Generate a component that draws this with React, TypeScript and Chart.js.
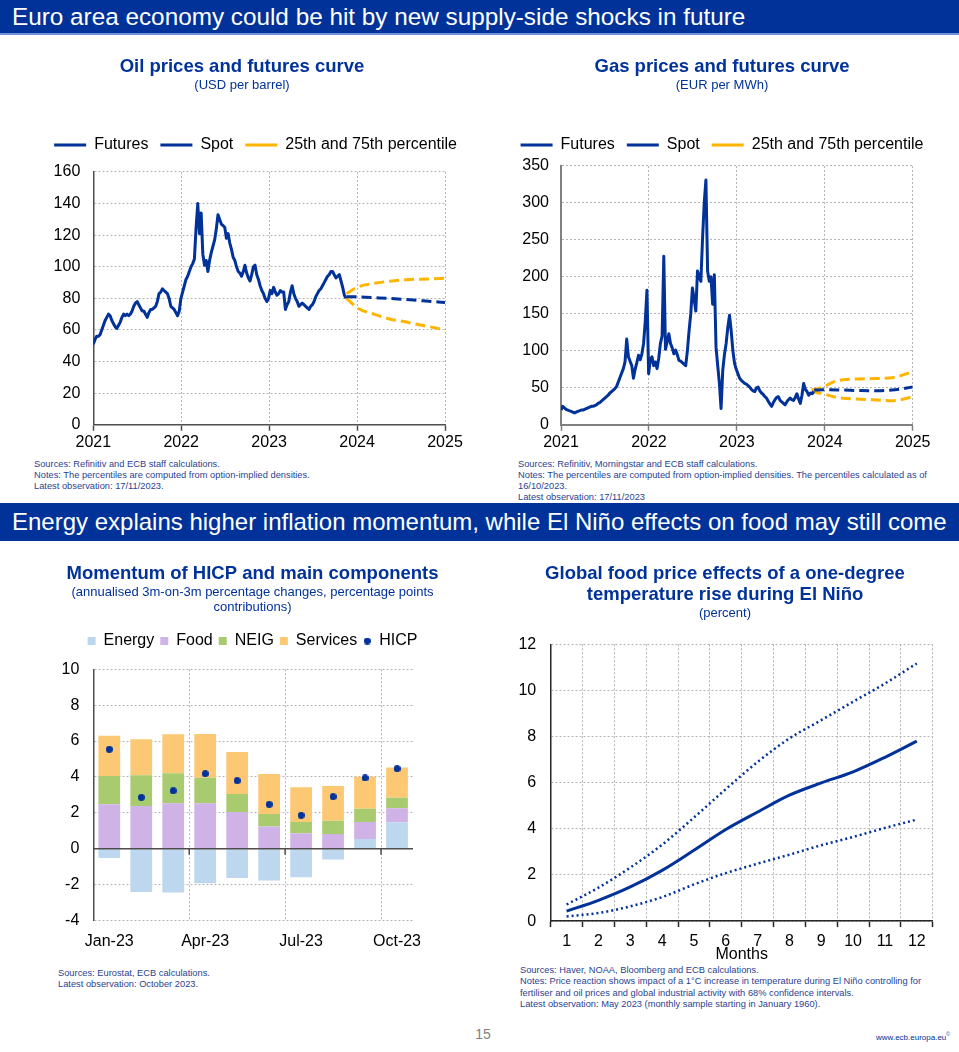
import React, { useEffect, useRef } from 'react';
import { Chart, registerables, layouts } from 'chart.js';

Chart.register(...registerables);

const FONT = '"Liberation Sans", Arial, Helvetica, sans-serif';
Chart.defaults.font.family = FONT;
Chart.defaults.color = '#000000';

const ECB_BLUE = '#003299';
const ECB_YELLOW = '#ffb400';
const GRID = '#b4b4b4';
const AXIS = '#4d4d4d';
const NOTE = '#2a3f8f';

// ---------- Oil prices (USD per barrel): weekly spot observations from 1 Jan 2021 to 17 Nov 2023
const spotStartYear = 2021;
const spotStepYears = 7 / 365.25;
const oilSpot = [
  51, 54, 56, 56, 57, 60, 63, 66, 68, 70,
  69, 66, 64, 62, 61, 63, 65, 68, 70, 69,
  70, 69, 70, 72, 75, 77, 78, 76, 74, 72,
  72, 70, 68, 71, 73, 73, 74, 75, 78, 83,
  84, 86, 85, 84, 83, 80, 75, 74, 73, 71,
  69, 72, 80, 84, 88, 92, 94, 97, 100, 102,
  105, 125, 140, 121, 134, 108, 101, 104, 97, 104,
  109, 113, 117, 124, 133, 130, 127, 126, 125, 118,
  121, 115, 111, 106, 104, 100, 97, 96, 94, 97,
  101, 96, 93, 91, 95, 100, 101, 95, 92, 88,
  85, 83, 80, 78, 80, 85, 83, 87, 84, 82,
  83, 85, 84, 84, 73, 76, 78, 84, 88, 83,
  80, 78, 75, 76, 77, 76, 75, 74, 73, 75,
  76, 78, 81, 83, 85, 86, 88, 90, 92, 94,
  95, 97, 97, 95, 93, 94, 95, 91, 87, 82,
  80,
];
const oilFuturesX = [2023.88, 2024.0, 2024.25, 2024.5, 2024.75, 2025.0];
const oilFutures = [81, 81, 80.3, 79.5, 78.5, 77.4];
const oilP75X = [2023.88, 2024.0, 2024.19, 2024.4, 2024.56, 2024.8, 2025.0];
const oilP75 = [83, 87, 89.5, 91, 91.8, 92.3, 92.7];
const oilP25X = [2023.88, 2023.92, 2024.0, 2024.19, 2024.37, 2024.56, 2024.75, 2024.94, 2025.0];
const oilP25 = [80, 78, 74, 70, 67, 65, 62.8, 60.7, 59.6];

// ---------- Gas prices (EUR per MWh): weekly spot observations from 1 Jan 2021 to 17 Nov 2023
const gasSpot = [
  20, 25, 23, 21, 20, 19, 18, 17, 16, 17,
  18, 19, 20, 20, 21, 22, 23, 24, 25, 25,
  26, 27, 29, 30, 32, 34, 36, 38, 40, 43,
  45, 47, 49, 52, 58, 64, 70, 76, 85, 116,
  92, 86, 80, 63, 75, 84, 94, 88, 96, 110,
  140, 182, 69, 88, 92, 80, 85, 76, 90, 110,
  120, 228, 102, 112, 123, 110, 104, 96, 101, 95,
  87, 86, 84, 82, 80, 100, 127, 150, 185, 170,
  154, 208, 200, 194, 252, 300, 331, 208, 194, 200,
  163, 203, 105, 80, 56, 22, 74, 95, 110, 132,
  148, 127, 100, 83, 75, 69, 63, 60, 58, 56,
  55, 53, 51, 48, 46, 45, 50, 51, 46, 43,
  41, 38, 36, 32, 28, 25, 30, 34, 37, 38,
  33, 31, 29, 27, 31, 34, 36, 34, 33, 37,
  42, 35, 29, 40, 56, 48, 45, 40, 43, 42,
  45,
];
const gasFuturesX = [2023.88, 2024.0, 2024.2, 2024.4, 2024.6, 2024.8, 2025.0];
const gasFutures = [47, 47.5, 47, 46.3, 46, 47.5, 51];
const gasP75X = [2023.85, 2023.98, 2024.1, 2024.21, 2024.4, 2024.6, 2024.78, 2025.0];
const gasP75 = [47, 51, 58, 61, 62, 62.5, 64, 71.5];
const gasP25X = [2023.85, 2023.98, 2024.1, 2024.21, 2024.4, 2024.6, 2024.78, 2025.0];
const gasP25 = [45, 42, 38, 36, 34.5, 33.5, 32.6, 38];

const yearMin = 2021;
const yearMax = 2025;

// ---------- HICP momentum
const hicpMonths = ['Jan-23', 'Feb-23', 'Mar-23', 'Apr-23', 'May-23', 'Jun-23', 'Jul-23', 'Aug-23', 'Sep-23', 'Oct-23'];
const hicpEnergy = [-0.52, -2.42, -2.45, -1.93, -1.64, -1.77, -1.6, -0.6, 0.54, 1.47];
const hicpFood = [2.47, 2.38, 2.53, 2.53, 2.04, 1.23, 0.86, 0.82, 0.95, 0.78];
const hicpNeig = [1.58, 1.71, 1.67, 1.43, 1.01, 0.7, 0.63, 0.74, 0.74, 0.59];
const hicpServices = [2.25, 2.01, 2.18, 2.43, 2.34, 2.23, 1.93, 1.93, 1.78, 1.68];
const hicpHeadline = [5.54, 2.86, 3.23, 4.18, 3.79, 2.47, 1.86, 2.9, 3.94, 4.46];
const hicpLabelEvery = 3;

// ---------- El Nino food price effects
const ninoMonths = ['1', '2', '3', '4', '5', '6', '7', '8', '9', '10', '11', '12'];
const ninoCentral = [0.43, 0.9, 1.48, 2.2, 3.07, 3.97, 4.73, 5.46, 5.99, 6.47, 7.1, 7.8];
const ninoUpper = [0.72, 1.45, 2.32, 3.31, 4.49, 5.72, 6.9, 7.92, 8.71, 9.51, 10.3, 11.17];
const ninoLower = [0.2, 0.35, 0.64, 1.04, 1.59, 2.08, 2.49, 2.88, 3.29, 3.65, 4.04, 4.4];

// spacer box placed between the legend / subtitle and the plot area
function spacer(h: number) {
  return {
    id: 'spacer',
    beforeInit(chart: any) {
      const box: any = {
        position: 'top',
        weight: 500,
        fullSize: true,
        options: {},
        left: 0, top: 0, right: 0, bottom: 0, width: 0, height: 0,
        isHorizontal() { return true; },
        update(maxWidth: number) { this.width = maxWidth; this.height = h; return h; },
        draw() {},
      };
      layouts.addBox(chart, box);
    },
  };
}

const titleOpts = (text: string | string[], top: number, lh = 1.2) => ({
  display: true,
  text,
  color: ECB_BLUE,
  font: { size: 18.5, weight: 'bold', lineHeight: lh },
  padding: { top, bottom: 0 },
});
const subtitleOpts = (text: string | string[], bottom: number, lh = 1.2) => ({
  display: true,
  text,
  color: ECB_BLUE,
  font: { size: 13, weight: 'normal', lineHeight: lh },
  padding: { top: 0, bottom },
});

const pts = (xs: number[], ys: number[]) => xs.map((x, i) => ({ x, y: ys[i] }));
const spotPts = (ys: number[]) => ys.map((y, i) => ({ x: spotStartYear + i * spotStepYears, y }));

function priceChart(opts: {
  title: string; subtitle: string; spot: number[]; futX: number[]; fut: number[];
  p75X: number[]; p75: number[]; p25X: number[]; p25: number[];
  yMax: number; yStep: number; yWidth: number; rightPad: number; align: string; spacerH: number;
  axisColor: string; axisWidth: number; yPad: number;
}) {
  const lineBase = { pointRadius: 0, pointStyle: 'line', borderWidth: 3, fill: false };
  return {
    type: 'line',
    data: {
      datasets: [
        { ...lineBase, label: 'Futures', data: pts(opts.futX, opts.fut), borderColor: ECB_BLUE, borderDash: [10, 5], cubicInterpolationMode: 'monotone' },
        { ...lineBase, label: 'Spot', data: spotPts(opts.spot), borderColor: ECB_BLUE, borderJoinStyle: 'round' },
        { ...lineBase, label: '25th and 75th percentile', data: pts(opts.p75X, opts.p75), borderColor: ECB_YELLOW, borderDash: [10, 5], cubicInterpolationMode: 'monotone' },
        { ...lineBase, label: '', data: pts(opts.p25X, opts.p25), borderColor: ECB_YELLOW, borderDash: [10, 5], cubicInterpolationMode: 'monotone' },
      ],
    },
    plugins: [spacer(opts.spacerH)],
    options: {
      responsive: false,
      animation: false,
      events: [],
      layout: { padding: 0 },
      plugins: {
        title: titleOpts(opts.title, 11, 1.15),
        subtitle: subtitleOpts(opts.subtitle, 32.1),
        legend: {
          display: true,
          align: opts.align,
          labels: {
            usePointStyle: true,
            pointStyleWidth: 32,
            font: { size: 16 },
            padding: 12,
            color: '#000',
            filter: (it: any) => it.text !== '',
          },
        },
        tooltip: { enabled: false },
      },
      scales: {
        x: {
          type: 'linear',
          min: yearMin,
          max: yearMax,
          ticks: { stepSize: 1, callback: (v: any) => String(v), font: { size: 16 }, padding: 2, maxRotation: 0, color: '#000' },
          grid: { color: GRID, lineWidth: 1, tickColor: opts.axisColor, tickLength: 6, tickWidth: 1.5, drawTicks: true },
          border: { display: true, color: opts.axisColor, width: opts.axisWidth, dash: [2, 2] },
          afterFit: (s: any) => { s.paddingRight = opts.rightPad; },
        },
        y: {
          min: 0,
          max: opts.yMax,
          ticks: { stepSize: opts.yStep, font: { size: 16 }, padding: opts.yPad, color: '#000' },
          grid: { color: GRID, lineWidth: 1, drawTicks: false },
          border: { display: true, color: opts.axisColor, width: opts.axisWidth, dash: [2, 2] },
          afterFit: (s: any) => { s.width = opts.yWidth; },
        },
      },
    },
  };
}

const zeroLinePlugin = {
  id: 'zeroLine',
  afterDatasetsDraw(chart: any) {
    const { ctx, chartArea, scales } = chart;
    const y0 = scales.y.getPixelForValue(0);
    ctx.save();
    ctx.strokeStyle = AXIS;
    ctx.lineWidth = 1.5;
    ctx.beginPath();
    ctx.moveTo(chartArea.left, y0);
    ctx.lineTo(chartArea.right, y0);
    const xs = scales.x;
    for (let i = hicpLabelEvery; i < hicpMonths.length; i += hicpLabelEvery) {
      const px = (xs.getPixelForTick(i - 1) + xs.getPixelForTick(i)) / 2;
      ctx.moveTo(px, y0);
      ctx.lineTo(px, y0 + 6);
    }
    ctx.stroke();
    ctx.restore();
  },
};

function makeDot(d: number, color: string) {
  const c = document.createElement('canvas');
  c.width = d;
  c.height = d;
  const g = c.getContext('2d')!;
  g.fillStyle = color;
  g.beginPath();
  g.arc(d / 2, d / 2, d / 2, 0, Math.PI * 2);
  g.fill();
  return c;
}

function hicpChart() {
  const bar = (label: string, data: number[], color: string) => ({
    type: 'bar', label, data, backgroundColor: color, borderWidth: 0, order: 1,
    pointStyle: 'rect', barPercentage: 0.68, categoryPercentage: 1, stack: 'comp',
  });
  const dot = makeDot(7, ECB_BLUE);
  return {
    type: 'bar',
    data: {
      labels: hicpMonths,
      datasets: [
        bar('Energy', hicpEnergy, '#bdd7ee'),
        bar('Food', hicpFood, '#d0b3e6'),
        bar('NEIG', hicpNeig, '#a9cb70'),
        bar('Services', hicpServices, '#fcc873'),
        {
          type: 'line', label: 'HICP', data: hicpHeadline, showLine: false, order: 0, stack: 'hicp',
          pointStyle: dot, pointRadius: 3.5, borderColor: ECB_BLUE, backgroundColor: ECB_BLUE, borderWidth: 0,
        },
      ],
    },
    plugins: [spacer(10.3), zeroLinePlugin],
    options: {
      responsive: false,
      animation: false,
      events: [],
      layout: { padding: 0 },
      plugins: {
        title: titleOpts('Momentum of HICP and main components', 13),
        subtitle: subtitleOpts(['(annualised 3m-on-3m percentage changes, percentage points', 'contributions)'], 11.8, 15 / 13),
        legend: {
          display: true,
          align: 'center',
          labels: {
            usePointStyle: true,
            pointStyleWidth: 8,
            boxHeight: 8,
            font: { size: 16 },
            padding: 6,
            color: '#000',
            sort: (a: any, b: any) => a.datasetIndex - b.datasetIndex,
          },
        },
        tooltip: { enabled: false },
      },
      scales: {
        x: {
          stacked: true,
          offset: true,
          grid: {
            offset: true,
            drawTicks: false,
            lineWidth: 1,
            color: (c: any) => (c.index > 0 && c.index < hicpMonths.length && c.index % hicpLabelEvery === 0 ? GRID : 'rgba(0,0,0,0)'),
          },
          border: { display: false, dash: [2, 2] },
          ticks: {
            autoSkip: false,
            maxRotation: 0,
            padding: 11.7,
            font: { size: 16 },
            color: '#000',
            callback: (_v: any, i: number) => (i % hicpLabelEvery === 0 ? hicpMonths[i] : ''),
          },
          afterFit: (s: any) => { s.paddingRight = 52; },
        },
        y: {
          stacked: true,
          min: -4,
          max: 10,
          ticks: { stepSize: 2, padding: 14, font: { size: 16 }, color: '#000' },
          grid: { color: GRID, lineWidth: 1, drawTicks: false },
          border: { display: true, color: AXIS, width: 1.5, dash: [2, 2] },
          afterFit: (s: any) => { s.width = 53.3; },
        },
      },
    },
  };
}

function ninoChart() {
  const dotted = { borderColor: ECB_BLUE, borderWidth: 2.5, borderDash: [2, 3], pointRadius: 0, fill: false, cubicInterpolationMode: 'monotone' };
  return {
    type: 'line',
    data: {
      labels: ninoMonths,
      datasets: [
        { ...dotted, label: 'Upper bound (68%)', data: ninoUpper },
        { label: 'Price reaction', data: ninoCentral, borderColor: ECB_BLUE, borderWidth: 3, pointRadius: 0, fill: false, cubicInterpolationMode: 'monotone' },
        { ...dotted, label: 'Lower bound (68%)', data: ninoLower },
      ],
    },
    plugins: [spacer(0)],
    options: {
      responsive: false,
      animation: false,
      events: [],
      layout: { padding: 0 },
      plugins: {
        title: titleOpts(['Global food price effects of a one-degree', 'temperature rise during El Niño'], 13.5, 21 / 18.5),
        subtitle: subtitleOpts('(percent)', 23.2),
        legend: { display: false },
        tooltip: { enabled: false },
      },
      scales: {
        x: {
          offset: true,
          grid: { offset: true, color: GRID, lineWidth: 1, tickColor: '#262626', tickLength: 6, tickWidth: 1.5, drawTicks: true },
          border: { display: true, color: '#262626', width: 1.5, dash: [2, 2] },
          ticks: { padding: 4.7, font: { size: 16, lineHeight: 1.2 }, color: '#000', maxRotation: 0, autoSkip: false },
          title: { display: true, text: 'Months', color: '#000', font: { size: 16, lineHeight: 1.2 }, padding: { top: -10.9, bottom: 0 } },
          afterFit: (s: any) => { s.paddingRight = 12.3; },
        },
        y: {
          min: 0,
          max: 12,
          ticks: { stepSize: 2, padding: 14.5, font: { size: 16 }, color: '#000' },
          grid: { color: GRID, lineWidth: 1, drawTicks: false },
          border: { display: true, color: '#262626', width: 1.5, dash: [2, 2] },
          afterFit: (s: any) => { s.width = 45.7; },
        },
      },
    },
  };
}

function ChartBox({ x, y, w, h, make }: { x: number; y: number; w: number; h: number; make: () => any }) {
  const ref = useRef<HTMLCanvasElement>(null);
  useEffect(() => {
    const chart = new Chart(ref.current as HTMLCanvasElement, make());
    return () => chart.destroy();
  }, []);
  return (
    <canvas
      ref={ref}
      width={w}
      height={h}
      style={{ position: 'absolute', left: x, top: y, width: w, height: h }}
    />
  );
}

function Notes({ x, y, lines, lh = 11 }: { x: number; y: number; lines: string[]; lh?: number }) {
  return (
    <div
      style={{
        position: 'absolute', left: x, top: y, fontFamily: FONT, fontSize: 9.3,
        lineHeight: `${lh}px`, color: NOTE, whiteSpace: 'nowrap',
      }}
    >
      {lines.map((l, i) => (
        <div key={i}>{l}</div>
      ))}
    </div>
  );
}

function Header({ y, h, text, size }: { y: number; h: number; text: string; size: number }) {
  return (
    <div
      style={{
        position: 'absolute', left: 0, top: y, width: 959, height: h, background: ECB_BLUE,
        color: '#ffffff', fontFamily: FONT, fontSize: size, lineHeight: `${h}px`,
        paddingLeft: 12, boxSizing: 'border-box', whiteSpace: 'nowrap', overflow: 'hidden',
      }}
    >
      {text}
    </div>
  );
}

export default function App() {
  return (
    <div style={{ position: 'absolute', left: 0, top: 0, width: 959, height: 1052, background: '#ffffff', overflow: 'hidden' }}>
      <Header y={0} h={33} size={24.3} text="Euro area economy could be hit by new supply-side shocks in future" />
      <div style={{ position: 'absolute', left: 0, top: 33, width: 959, height: 2, background: '#7391d6' }} />

      <ChartBox
        x={15} y={45} w={454} h={409}
        make={() => priceChart({
          title: 'Oil prices and futures curve', subtitle: '(USD per barrel)', spot: oilSpot,
          futX: oilFuturesX, fut: oilFutures, p75X: oilP75X, p75: oilP75, p25X: oilP25X, p25: oilP25,
          yMax: 160, yStep: 20, yWidth: 78.3, rightPad: 24, align: 'end', spacerH: 9, axisColor: AXIS, axisWidth: 1.5, yPad: 13,
        })}
      />
      <ChartBox
        x={507} y={45} w={430} h={409}
        make={() => priceChart({
          title: 'Gas prices and futures curve', subtitle: '(EUR per MWh)', spot: gasSpot,
          futX: gasFuturesX, fut: gasFutures, p75X: gasP75X, p75: gasP75, p25X: gasP25X, p25: gasP25,
          yMax: 350, yStep: 50, yWidth: 54, rightPad: 24.3, align: 'center', spacerH: 3, axisColor: '#808080', axisWidth: 2, yPad: 12,
        })}
      />

      <Notes
        x={34} y={458.5}
        lines={[
          'Sources: Refinitiv and ECB staff calculations.',
          'Notes: The percentiles are computed from option-implied densities.',
          'Latest observation: 17/11/2023.',
        ]}
      />
      <Notes
        x={518} y={458.5}
        lines={[
          'Sources: Refinitiv, Morningstar and ECB staff calculations.',
          'Notes: The percentiles are computed from option-implied densities. The percentiles calculated as of',
          '16/10/2023.',
          'Latest observation: 17/11/2023',
        ]}
      />

      <Header y={503} h={38} size={24} text="Energy explains higher inflation momentum, while El Niño effects on food may still come" />

      <ChartBox x={40} y={550} w={425} h={413} make={hicpChart} />
      <ChartBox x={505} y={550} w={440} h={414} make={ninoChart} />

      <Notes
        x={58} y={967.5}
        lines={['Sources: Eurostat, ECB calculations.', 'Latest observation: October 2023.']}
      />
      <Notes
        x={520} y={965} lh={11.4}
        lines={[
          'Sources: Haver, NOAA, Bloomberg and ECB calculations.',
          'Notes: Price reaction shows impact of a 1°C increase in temperature during El Niño controlling for',
          'fertiliser and oil prices and global industrial activity with 68% confidence intervals.',
          'Latest observation: May 2023 (monthly sample starting in January 1960).',
        ]}
      />

      <div
        style={{
          position: 'absolute', left: 463, top: 1025, width: 40, textAlign: 'center', fontFamily: FONT,
          fontSize: 14, lineHeight: '18px', color: '#7f7f7f',
        }}
      >
        15
      </div>
      <div
        style={{
          position: 'absolute', right: 9, top: 1029, fontFamily: FONT, fontSize: 8,
          lineHeight: '10px', color: ECB_BLUE, whiteSpace: 'nowrap',
        }}
      >
        www.ecb.europa.eu<sup style={{ fontSize: 5 }}>©</sup>
      </div>
    </div>
  );
}
